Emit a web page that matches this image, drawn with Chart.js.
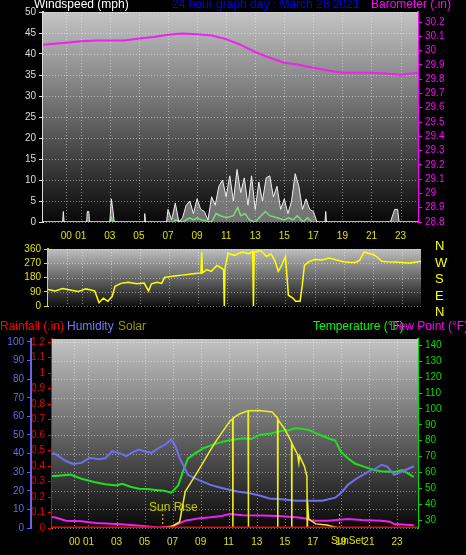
<!DOCTYPE html>
<html><head><meta charset="utf-8">
<script src="https://cdn.jsdelivr.net/npm/chart.js@4"></script>
<style>
body{margin:0;background:#000;width:466px;height:555px;overflow:hidden;position:relative;font-family:"Liberation Sans",Arial,sans-serif}
.c{position:absolute;left:0;width:466px}
canvas{display:block}
.t{position:absolute;font-size:12px;white-space:nowrap}
</style></head><body>
<div class="c" style="top:0;height:240px"><canvas id="c1" width="466" height="240"></canvas></div>
<div class="c" style="top:240px;height:75px"><canvas id="c2" width="466" height="75"></canvas></div>
<div class="c" style="top:315px;height:240px"><canvas id="c3" width="466" height="240"></canvas></div>
<div class="t" style="left:34px;top:-3px;color:#fff">Windspeed (mph)</div>
<div class="t" style="left:172px;top:-3px;color:#0000ff">24 hour graph day : March 28 2021</div>
<div class="t" style="left:371px;top:-3px;color:#ff00ff">Barometer (.in)</div>
<div class="t" style="left:0px;top:319px;color:#ff0000">Rainfall (.in)</div>
<div class="t" style="left:67px;top:319px;color:#7777ff">Humidity</div>
<div class="t" style="left:118px;top:319px;color:#999900">Solar</div>
<div class="t" style="left:313px;top:319px;color:#00ff00">Temperature (°F)</div>
<div class="t" style="left:390px;top:319px;color:#ff00ff">Dew Point (°F)</div>
<div class="t" style="left:149px;top:500px;color:#c8c800">Sun Rise</div>
<div class="t" style="left:331px;top:535px;color:#e0e000;font-size:10px">SunSet</div>
<div class="t" style="left:435px;top:238px;color:#ffff00;font-size:13px;line-height:16.5px">N<br>W<br>S<br>E<br>N</div>
<script>
const xTicks=[0,1,3,5,7,9,11,13,15,17,19,21,23];
const baroHours=[-1.6,0,1,2,3,4,5,6,7,8,9,10,11,12,13,14,15,16,17,18,19,20,21,22,23,24.2];
const baroValues=[30.04,30.055,30.065,30.07,30.07,30.07,30.085,30.095,30.11,30.12,30.115,30.105,30.08,30.04,29.99,29.95,29.915,29.9,29.88,29.86,29.845,29.845,29.845,29.84,29.83,29.845];
const gustHours=[-1.6,-0.25,-0.2,-0.15,1.4,1.45,1.55,1.6,3.0,3.1,3.2,3.3,5.35,5.4,5.45,6.9,7.0,7.25,7.5,7.75,8.0,8.25,8.5,8.75,9.0,9.25,9.5,9.75,10.0,10.25,10.5,10.75,11.0,11.25,11.5,11.75,12.0,12.25,12.5,12.75,13.0,13.25,13.5,13.75,14.0,14.25,14.5,14.75,15.0,15.25,15.5,15.75,16.0,16.25,16.5,16.75,17.0,17.25,17.8,17.85,17.9,22.3,22.4,22.6,22.8,22.9,24.2];
const gustValues=[0,0,2.5,0,0,2.5,2.5,0,0,5.5,3,0,0,2,0,0,3,0.5,4.5,0,1,4,5,2,5.5,3,2.5,0.5,6,4,8.5,10,6,11,5,12.5,7,10.5,4,11,3,9.5,5,10.5,11,6,8.5,3,5.5,2,5,11.5,8.5,3,5.5,3,2.5,0,0,2.5,0,0,1,3,3,0,0];
const avgHours=[-1.6,3.0,3.1,3.2,7.4,7.5,8,8.5,8.75,9,9.3,10,10.3,10.6,11,11.5,11.8,12,12.3,12.6,13,13.4,13.7,14,14.5,15,15.3,15.6,15.9,16.3,16.6,16.9,24.2];
const avgValues=[0,0,1,0,0,0.5,0,1,0.5,1,0.5,0,2,1.5,1,1.5,3.5,1.5,2,0.5,0,1.5,2.5,1.5,1,0.5,1,0.5,1.5,0,1,0,0];
const dirHours=[-1.3,-0.8,-0.3,0.3,0.8,1.3,1.9,2.05,2.2,2.5,2.8,3.1,3.3,3.7,4.2,4.8,5.3,5.6,5.8,6.2,6.5,6.7,7.0,7.4,7.9,8.4,8.8,9.2,9.25,9.3,9.6,9.9,10.3,10.6,10.75,10.8,10.85,11.05,11.5,12.0,12.5,12.75,12.8,12.85,13.3,13.7,14.0,14.3,14.5,14.7,15.0,15.2,15.5,15.7,16.0,16.15,16.3,16.6,17.0,17.5,18.0,18.5,19.0,19.5,19.8,20.1,20.4,20.8,21.1,21.4,21.6,22.0,22.5,23.0,23.5,24.3];
const dirValues=[105,95,110,100,92,108,96,60,21,49,30,60,124,143,150,140,145,95,140,150,143,181,185,190,195,200,205,209,341,210,230,219,256,240,230,0,240,332,320,341,330,345,0,340,350,313,330,280,219,250,313,68,50,30,30,130,256,280,294,290,303,290,280,275,275,290,341,330,322,300,283,280,278,275,272,283];
const humHours=[-1.6,-1.4,-0.6,-0.1,0.5,1.1,1.7,2.2,2.7,3.3,3.7,4.1,4.6,5.1,5.5,6.0,6.5,6.9,7.2,7.5,8.1,8.8,9.7,10.5,11.6,12.5,13.2,13.9,14.8,15.8,16.8,17.7,18.6,19.1,19.5,20.2,21.0,21.5,21.9,22.3,22.8,23.4,24.2];
const humValues=[40,39.9,36,34.4,35,37.7,37,37.5,41.3,40,38.6,40.5,42.2,41,40.4,43,45,47.6,44,37.7,28.6,26,23.2,21.5,19.6,18.7,17.5,15.9,15.5,14.7,14.7,14.7,16.3,19.5,23.2,27,30.4,32,34,33,28.6,30.5,33.2];
const tempHours=[-1.6,-1.4,-0.3,0.5,1.4,2.2,3.0,3.4,4.0,4.6,5.2,5.8,6.4,6.9,7.4,7.8,8.1,8.6,9.2,9.9,10.6,11.3,12.0,12.6,13.2,14.0,14.8,15.3,15.8,16.7,17.4,18.1,18.6,19.0,19.5,20.0,20.7,21.4,22.1,22.8,23.4,24.2];
const tempValues=[57.8,57.8,58.6,56,54,52.5,51.8,52.9,51,49.7,49.5,49,48.5,47.2,51.8,62,68.8,72,75.2,77.5,79.4,80.5,81.5,81,83.6,84.5,86.2,86.5,87.9,86.8,84,81.5,80,73,69,65.6,63.5,61.4,60.5,60.3,61.5,57.1];
const dewHours=[-1.6,-1.4,-0.6,0.5,1.5,3.0,4.5,6.0,7.0,7.9,8.8,9.7,10.5,11.1,12.0,13.4,14.5,15.8,16.5,16.9,18.1,19.5,20.5,21.9,22.5,22.8,24.2];
const dewValues=[31.7,31.7,29.6,29.2,28.2,27.5,26.5,25.3,26,29.6,31,31.7,32.5,33.8,33,32.8,32.5,31.7,31,29.6,29.6,30.6,30,29.6,29,27.5,26.8];
const solarHours=[-1.6,6.4,7.0,7.5,7.9,8.5,9.1,9.6,10.1,10.6,11.1,11.28,11.3,11.32,11.8,12.38,12.4,12.42,13.2,14.1,14.48,14.5,14.52,15.0,15.48,15.5,15.52,15.9,16.0,16.05,16.4,16.58,16.6,16.62,16.7,17.2,18.0,18.8,24.2];
const solarValues=[0,0,12,35,212,290,370,440,506,565,623,635,0,640,665,682,0,682,684,675,640,0,630,575,500,0,490,430,380,420,359,300,0,153,53,24,18,0,0];
const rainHours=[-1.6,24.5];
const rainValues=[0,0];
const sunRiseHour=6.3, sunSetHour=18.9;

const pts=(h,v)=>h.map((x,i)=>({x,y:v[i]}));
const bgPlugin={id:'bg',beforeDatasetsDraw(c){const o=c.options.plugins.bg;if(!o)return;const a=c.chartArea,ctx=c.ctx;const g=ctx.createLinearGradient(0,a.top,0,a.bottom);g.addColorStop(0,o.top);g.addColorStop(1,o.bottom);ctx.save();ctx.fillStyle=g;ctx.fillRect(a.left,a.top,a.width,a.height);
 ctx.strokeStyle='rgba(255,255,255,0.45)';ctx.setLineDash([1,2]);ctx.lineWidth=1;
 const xs=c.scales.x, ys=c.scales[o.grid];
 xs.ticks.forEach(t=>{const p=Math.round(xs.getPixelForValue(t.value))+0.5;ctx.beginPath();ctx.moveTo(p,a.top);ctx.lineTo(p,a.bottom);ctx.stroke();});
 ys.ticks.forEach(t=>{const p=Math.round(ys.getPixelForValue(t.value))+0.5;ctx.beginPath();ctx.moveTo(a.left,p);ctx.lineTo(a.right,p);ctx.stroke();});
 ctx.restore();}};
Chart.register(bgPlugin);
const F={family:'"Liberation Sans",Arial,sans-serif',size:10};
function xScale(min,max,show,h){return {type:'linear',min,max,display:true,afterBuildTicks(s){s.ticks=xTicks.map(v=>({value:v}));},
 ticks:{display:show,color:'#e0e000',font:F,autoSkip:false,maxRotation:0,padding:0,callback:v=>String(v).padStart(2,'0')},
 grid:{display:false},border:{display:false},afterFit(s){s.height=h;}};}
function mk(list){return s=>{s.ticks=list.map(v=>({value:v}));};}
function yAx(pos,min,max,list,color,w,fmt){return {type:'linear',position:pos,min,max,afterBuildTicks:mk(list),
 ticks:{color,font:F,padding:3,autoSkip:false,callback:fmt||(v=>String(v))},grid:{display:true,drawOnChartArea:false,tickLength:4,tickColor:color},
 border:{color,width:2},afterFit(s){s.width=w;}};}
const ln=(data,color,yID,w,extra)=>Object.assign({data,borderColor:color,borderWidth:w||1.5,pointRadius:0,yAxisID:yID,tension:0,fill:false,showLine:true},extra||{});
const plug=bg=>({legend:{display:false},tooltip:{enabled:false},bg});
const range=(a,b,s)=>{const r=[];for(let v=a;v<=b+1e-9;v+=s)r.push(+v.toFixed(2));return r;};

new Chart(document.getElementById('c1'),{type:'scatter',data:{datasets:[
 ln(pts(baroHours,baroValues),'#ee22ee','yB',2),
 ln(pts(gustHours,gustValues),'#f0f0f0','yW',1,{fill:'origin',backgroundColor:'rgba(200,200,200,0.55)'}),
 ln(pts(avgHours,avgValues),'#22ee22','yW',1.5)
]},options:{responsive:false,animation:false,events:[],layout:{padding:{top:12}},
 plugins:plug({top:'#c4c4c4',bottom:'#080808',grid:'yW'}),
 scales:{x:xScale(-1.6,24.2,true,18),
 yW:yAx('left',0,50,range(0,50,5),'#dddddd',43),
 yB:yAx('right',28.8,30.27,range(28.8,30.2,0.1),'#ff00ff',48,v=>String(+v.toFixed(1)))}}});

new Chart(document.getElementById('c2'),{type:'scatter',data:{datasets:[
 ln(pts(dirHours,dirValues),'#ffff00','yD',1.5)
]},options:{responsive:false,animation:false,events:[],layout:{padding:{top:7,bottom:3,right:45}},
 plugins:plug({top:'#c0c0c0',bottom:'#101010',grid:'yD'}),
 scales:{x:xScale(-1.3,24.3,false,0),
 yD:yAx('left',0,360,[0,90,180,270,360],'#e0e000',48)}}});

new Chart(document.getElementById('c3'),{type:'scatter',data:{datasets:[
 ln(pts(rainHours,rainValues),'#ff0000','yR',3),
 ln(pts(rainHours,rainValues),'#ffa500','yS',1.5),
 ln(pts(solarHours,solarValues),'#eeee22','yS',1.5),
 ln(pts(humHours,humValues),'#7070ee','yH',2),
 ln(pts(tempHours,tempValues),'#22dd22','yT',2),
 ln(pts(dewHours,dewValues),'#ee22ee','yT',2),
 ln([{x:sunRiseHour,y:0},{x:sunRiseHour,y:95}],'#e0e000','yS',1,{borderDash:[2,2]}),
 ln([{x:sunSetHour,y:0},{x:sunSetHour,y:95}],'#e0e000','yS',1,{borderDash:[2,2]})
]},options:{responsive:false,animation:false,events:[],layout:{padding:{top:24}},
 plugins:plug({top:'#c4c4c4',bottom:'#080808',grid:'yH'}),
 scales:{x:xScale(-1.6,24.5,true,27),
 yR:yAx('left',0,1.22,range(0,1.2,0.1),'#ee0000',21,v=>String(+v.toFixed(1))),
 yH:yAx('left',0,101.6,range(0,100,10),'#6666ee',31),
 yT:yAx('right',25,144,range(30,140,10),'#00dd00',48),
 yS:{type:'linear',display:false,min:0,max:1100}}}});
</script></body></html>
